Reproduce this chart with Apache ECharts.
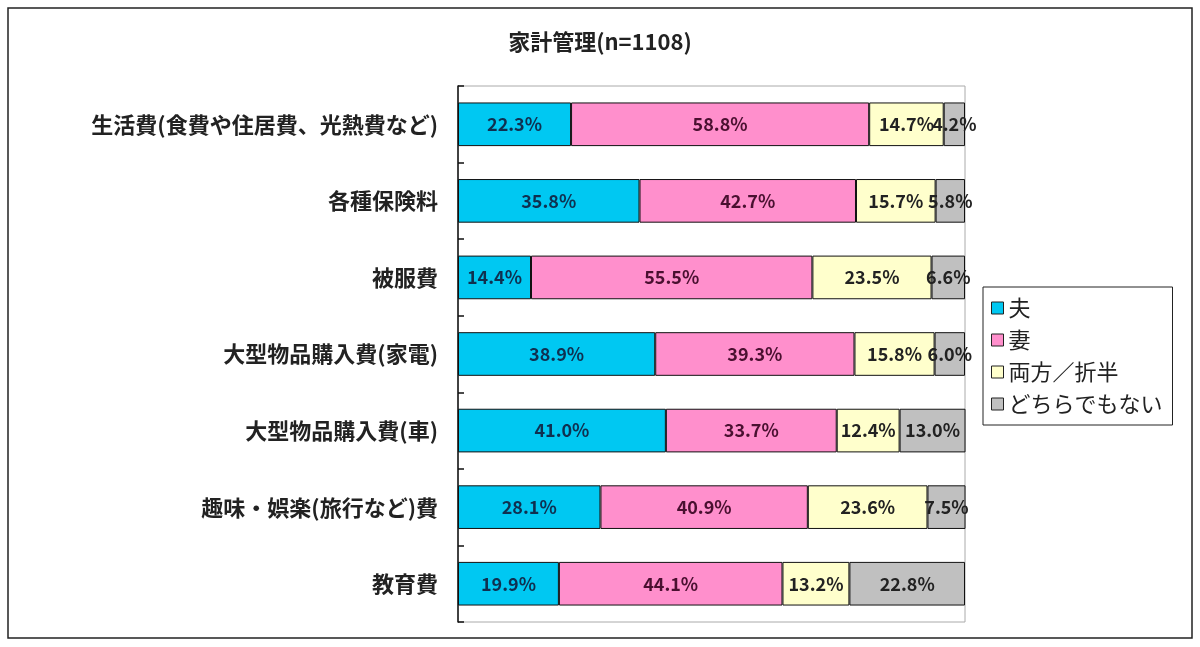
<!DOCTYPE html>
<html>
<head>
<meta charset="utf-8">
<script src="https://cdn.jsdelivr.net/npm/echarts@6/dist/echarts.min.js"></script>
<style>
  html, body { margin: 0; padding: 0; background: #fff; }
  #main { width: 1200px; height: 647px; }
</style>
</head>
<body>
<div id="main"></div>
<script>
var categories = ['生活費(食費や住居費、光熱費など)', '各種保険料', '被服費', '大型物品購入費(家電)', '大型物品購入費(車)', '趣味・娯楽(旅行など)費', '教育費'];
var seriesNames = ['夫', '妻', '両方／折半', 'どちらでもない'];
var husband = [22.3, 35.8, 14.4, 38.9, 41.0, 28.1, 19.9];
var wife = [58.8, 42.7, 55.5, 39.3, 33.7, 40.9, 44.1];
var both = [14.7, 15.7, 23.5, 15.8, 12.4, 23.6, 13.2];
var neither = [4.2, 5.8, 6.6, 6.0, 13.0, 7.5, 22.8];

var colorList = ['#00c8f2', '#ff8fcc', '#ffffcc', '#c0c0c0'];
var labelColor = ['#0f3050', '#4a1030', '#222222', '#222222'];
var allData = [husband, wife, both, neither];

var font = '"Noto Sans CJK JP", "Noto Sans", sans-serif';

var chart = echarts.init(document.getElementById('main'));

var seriesData = [];
for (var k = 0; k < seriesNames.length; k++) {
    seriesData.push({
        name: seriesNames[k],
        type: 'bar',
        stack: 'total',
        barCategoryGap: '43%',
        itemStyle: {
            color: colorList[k],
            borderColor: '#111',
            borderWidth: 1
        },
        label: {
            show: true,
            position: 'inside',
            color: labelColor[k],
            fontSize: 18,
            fontWeight: 'bold',
            fontFamily: font,
            formatter: function (param) {
                return param.value.toFixed(1) + '%';
            }
        },
        data: allData[k]
    });
}

var option = {
    backgroundColor: '#fff',
    animation: false,
    title: {
        text: '家計管理(n=1108)',
        left: 'center',
        top: 26,
        textStyle: { fontSize: 22, fontWeight: 'bold', color: '#222', fontFamily: font }
    },
    graphic: [{
        type: 'rect',
        shape: { x: 8, y: 8, width: 1184, height: 630 },
        style: { fill: 'none', stroke: '#222', lineWidth: 1.5 },
        z: -1
    }],
    grid: {
        left: 458,
        right: 235,
        top: 86,
        bottom: 25,
        show: true,
        borderColor: '#aaa',
        borderWidth: 1
    },
    legend: {
        orient: 'vertical',
        left: 983,
        top: 287,
        data: seriesNames,
        icon: 'rect',
        itemWidth: 12,
        itemHeight: 12,
        itemGap: 10,
        padding: [10, 10, 10, 8],
        borderColor: '#222',
        borderWidth: 1,
        itemStyle: { borderColor: '#222', borderWidth: 1 },
        textStyle: { fontSize: 22, color: '#222', fontFamily: font }
    },
    xAxis: {
        type: 'value',
        min: 0,
        max: 100,
        show: false
    },
    yAxis: {
        type: 'category',
        inverse: true,
        data: categories,
        axisLine: { show: true, lineStyle: { color: '#111', width: 1.5 } },
        axisTick: { show: true, inside: true, length: 6, lineStyle: { color: '#111', width: 1.5 } },
        axisLabel: { fontSize: 22, fontWeight: 'bold', color: '#222', margin: 20, fontFamily: font },
        splitLine: { show: false }
    },
    series: seriesData
};
chart.setOption(option);
</script>
</body>
</html>
